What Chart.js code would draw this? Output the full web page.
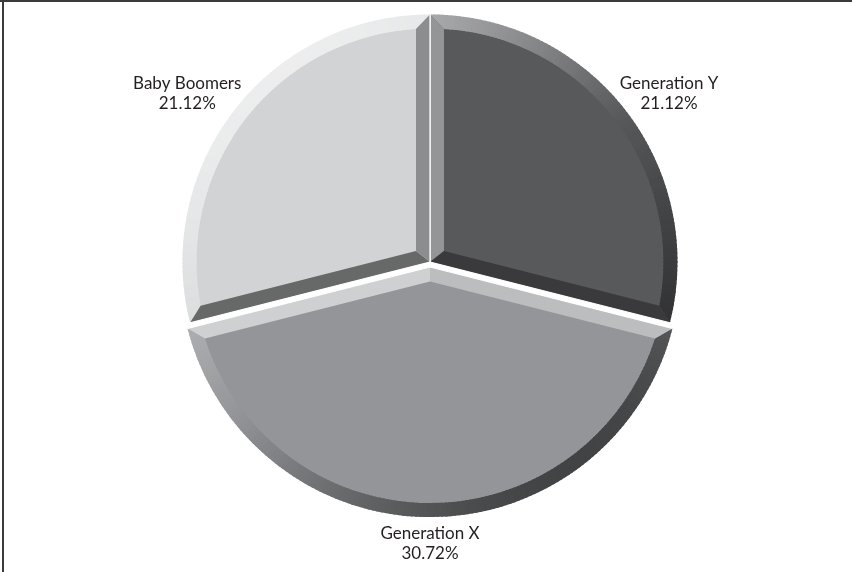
<!DOCTYPE html>
<html>
<head>
<meta charset="utf-8">
<script src="https://cdn.jsdelivr.net/npm/chart.js@4/dist/chart.umd.min.js"></script>
<style>
  html, body { margin: 0; padding: 0; background: #ffffff; }
  #wrap { position: relative; width: 852px; height: 572px; }
</style>
</head>
<body>
<div id="wrap"><canvas id="chart" width="852" height="572"></canvas></div>
<script>
// Generational shares
const categories = ['Generation Y', 'Generation X', 'Baby Boomers'];
const shares = [21.12, 30.72, 21.12];

// Slice styling
const faceColors = ['#58595b', '#939598', '#d1d3d4'];
const sliceOffsets = [0, 20, 0];

const BEVEL = 14;
const LIGHT = { x: -0.6, y: -0.8 };

function shade(hex, d) {
  const n = parseInt(hex.slice(1), 16);
  const ch = [(n >> 16) & 255, (n >> 8) & 255, n & 255];
  const f = c => d >= 0 ? c + (255 - c) * 0.6 * d : c * (1 + 0.55 * d);
  const [r, g, b] = ch.map(c => Math.round(Math.max(0, Math.min(255, f(c)))));
  return `rgb(${r},${g},${b})`;
}

function arcGeometry(arc) {
  const p = arc.getProps(['x', 'y', 'startAngle', 'endAngle', 'outerRadius', 'circumference'], true);
  const off = (arc.options.offset || 0) / 4;
  const half = (p.startAngle + p.endAngle) / 2;
  const fix = 1 - Math.sin(Math.min(Math.PI, p.circumference || 0));
  return {
    cx: p.x + Math.cos(half) * off,
    cy: p.y + Math.sin(half) * off,
    R: p.outerRadius + off * fix,
    a0: p.startAngle,
    a1: p.endAngle,
    half
  };
}

// Frame lines along the top and left edges
const framePlugin = {
  id: 'frame',
  beforeDraw(chart) {
    const ctx = chart.ctx;
    ctx.save();
    ctx.fillStyle = '#ffffff';
    ctx.fillRect(0, 0, chart.width, chart.height);
    ctx.fillStyle = '#3b3b3b';
    ctx.fillRect(0, 0, chart.width, 2);
    ctx.fillRect(2, 0, 2, chart.height);
    ctx.restore();
  }
};

// Bevelled rim and radial facets on each slice
const bevelPlugin = {
  id: 'bevel',
  afterDatasetsDraw(chart) {
    const ctx = chart.ctx;
    const meta = chart.getDatasetMeta(0);
    meta.data.forEach((arc, i) => {
      const { cx, cy, R, a0, a1, half } = arcGeometry(arc);
      const th = a1 - a0;
      if (th <= 0) return;
      const color = faceColors[i];
      const b = BEVEL;
      const d = Math.asin(b / (R - b));
      const apexDist = b / Math.sin(th / 2);
      const A = [cx + Math.cos(half) * apexDist, cy + Math.sin(half) * apexDist];
      const pt = (r, a) => [cx + r * Math.cos(a), cy + r * Math.sin(a)];

      ctx.save();
      // rim facet, shaded by its outward direction
      ctx.beginPath();
      ctx.arc(cx, cy, R, a0, a1);
      const m1 = pt(R - b, a1 - d);
      ctx.lineTo(m1[0], m1[1]);
      ctx.arc(cx, cy, R - b, a1 - d, a0 + d, true);
      ctx.closePath();
      ctx.clip();
      const step = Math.PI / 180;
      for (let a = a0; a < a1; a += step) {
        const e = Math.min(a + step, a1);
        const m = (a + e) / 2;
        const dot = Math.cos(m) * LIGHT.x + Math.sin(m) * LIGHT.y;
        ctx.fillStyle = shade(color, dot);
        ctx.beginPath();
        ctx.moveTo(cx, cy);
        ctx.arc(cx, cy, R + 3, a - 0.004, e + 0.004);
        ctx.closePath();
        ctx.fill();
      }
      ctx.restore();

      // radial facets
      const facet = (edgeAngle, miterAngle, normalAngle) => {
        const P = pt(R, edgeAngle);
        const M = pt(R - b, miterAngle);
        const dot = Math.cos(normalAngle) * LIGHT.x + Math.sin(normalAngle) * LIGHT.y;
        ctx.fillStyle = shade(color, dot);
        ctx.beginPath();
        ctx.moveTo(cx, cy);
        ctx.lineTo(P[0], P[1]);
        ctx.lineTo(M[0], M[1]);
        ctx.lineTo(A[0], A[1]);
        ctx.closePath();
        ctx.fill();
      };
      facet(a0, a0 + d, a0 - Math.PI / 2);
      facet(a1, a1 - d, a1 + Math.PI / 2);

      // thin white seams between slices
      ctx.save();
      ctx.strokeStyle = '#ffffff';
      ctx.lineWidth = 1.2;
      ctx.beginPath();
      const s0 = pt(R, a0), s1 = pt(R, a1);
      ctx.moveTo(s0[0], s0[1]);
      ctx.lineTo(cx, cy);
      ctx.lineTo(s1[0], s1[1]);
      ctx.stroke();
      ctx.restore();
    });
  }
};

// Category name and share written outside each slice
const labelPlugin = {
  id: 'sliceLabels',
  afterDraw(chart) {
    const ctx = chart.ctx;
    const meta = chart.getDatasetMeta(0);
    ctx.save();
    ctx.font = '17px Lato, "Open Sans", sans-serif';
    ctx.fillStyle = '#231f20';
    ctx.textAlign = 'center';
    ctx.textBaseline = 'middle';
    const lineH = 20;
    meta.data.forEach((arc, i) => {
      const { cx, cy, R, half } = arcGeometry(arc);
      const lines = [categories[i], shares[i].toFixed(2) + '%'];
      const w = Math.max(...lines.map(t => ctx.measureText(t).width));
      const h = lines.length * lineH;
      const ux = Math.cos(half), uy = Math.sin(half);
      const gap = 6;
      const tx = cx + ux * (R + gap) + ux * w / 2;
      const ty = cy + uy * (R + gap) + uy * h / 2;
      lines.forEach((t, k) => {
        ctx.fillText(t, tx, ty + (k - (lines.length - 1) / 2) * lineH);
      });
    });
    ctx.restore();
  }
};

new Chart(document.getElementById('chart'), {
  type: 'pie',
  data: {
    labels: categories,
    datasets: [{
      data: shares,
      backgroundColor: faceColors,
      borderColor: '#ffffff',
      borderWidth: 1,
      offset: sliceOffsets,
      hoverOffset: 0
    }]
  },
  options: {
    responsive: false,
    animation: false,
    rotation: 0,
    layout: { padding: { top: 4, bottom: 52, left: 8, right: 0 } },
    plugins: {
      legend: { display: false },
      tooltip: { enabled: false }
    },
    events: []
  },
  plugins: [framePlugin, bevelPlugin, labelPlugin]
});
</script>
</body>
</html>
